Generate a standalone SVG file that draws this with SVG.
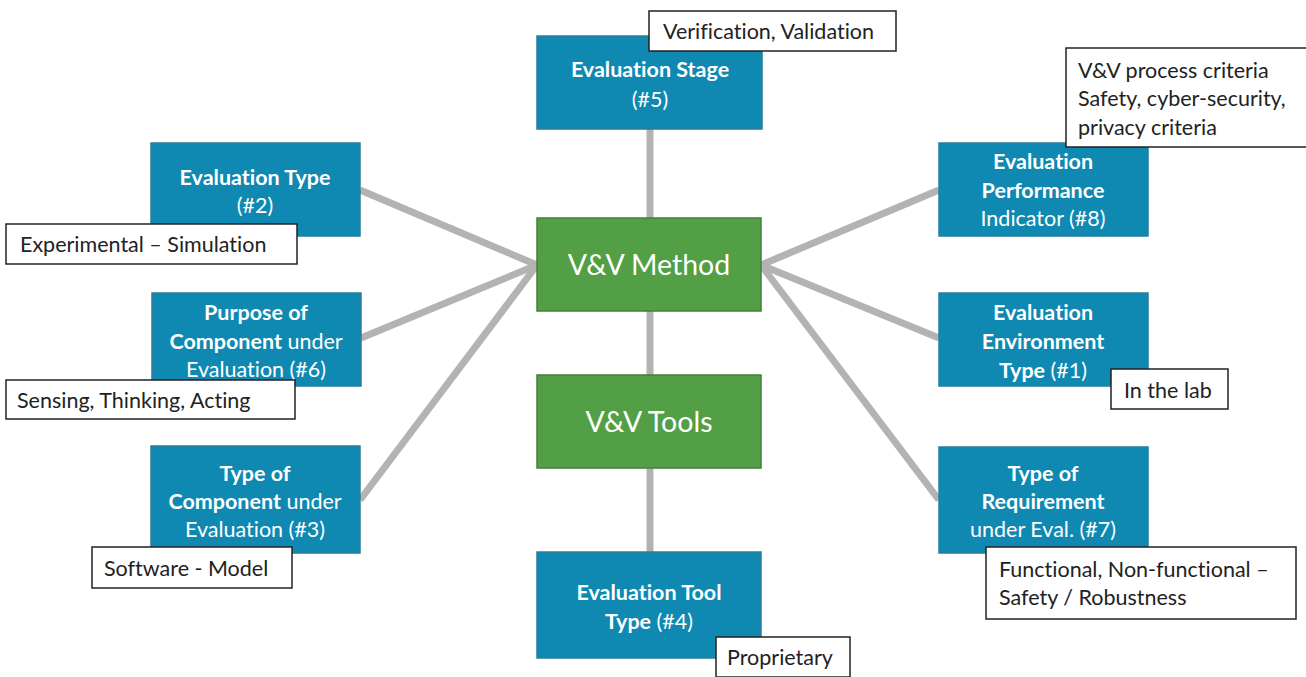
<svg xmlns="http://www.w3.org/2000/svg" width="1306" height="677" viewBox="0 0 1306 677">
<style>
.blue{fill:#0f89b1;stroke:#2a7d9c;stroke-width:1.5}
.green{fill:#529f46;stroke:#467f3b;stroke-width:1.5}
.lbl{fill:#fff;stroke:#222;stroke-width:1.5}
.conn{stroke:#b3b3b3;stroke-width:7;fill:none;stroke-linecap:butt}
text{font-family:Lato,"Open Sans",sans-serif;font-variant-ligatures:none;font-feature-settings:"liga" 0}
.bt{font-size:21.5px;fill:#fff;text-anchor:middle}
.b{font-weight:bold}
.gt{font-size:28.5px;fill:#fff;text-anchor:middle}
.lt{font-size:21.5px;fill:#222}
</style>
<g id="connectors">
<line class="conn" x1="650" y1="129" x2="650" y2="218"/>
<line class="conn" x1="650" y1="311" x2="650" y2="375"/>
<line class="conn" x1="650" y1="468" x2="650" y2="552"/>
<polyline class="conn" points="360,190 537,265 361,338"/>
<line class="conn" x1="537" y1="265" x2="360" y2="500"/>
<polyline class="conn" points="939,190 761,265 939,338"/>
<line class="conn" x1="761" y1="265" x2="939" y2="500"/>
</g>
<g id="stage">
<rect class="blue" x="537" y="36" width="225" height="93"/>
<text class="bt b" x="650" y="77">Evaluation Stage</text>
<text class="bt" x="650" y="107">(#5)</text>
<rect class="lbl" x="649" y="11" width="247" height="40"/>
<text class="lt" x="663" y="39">Verification, Validation</text>
</g>
<g id="method">
<rect class="green" x="537" y="218" width="224" height="93"/>
<text class="gt" x="649" y="275">V&amp;V Method</text>
</g>
<g id="tools">
<rect class="green" x="537" y="375" width="224" height="93"/>
<text class="gt" x="649" y="432">V&amp;V Tools</text>
</g>
<g id="tooltype">
<rect class="blue" x="537" y="552" width="224" height="106"/>
<text class="bt b" x="649" y="600">Evaluation Tool</text>
<text class="bt" x="649" y="629"><tspan class="b">Type</tspan> (#4)</text>
<rect class="lbl" x="716" y="637" width="134" height="40"/>
<text class="lt" x="727" y="665">Proprietary</text>
</g>
<g id="evaltype">
<rect class="blue" x="151" y="143" width="209" height="93"/>
<text class="bt b" x="255" y="185">Evaluation Type</text>
<text class="bt" x="255" y="213">(#2)</text>
<rect class="lbl" x="6" y="224" width="291" height="40"/>
<text class="lt" x="20" y="252">Experimental – Simulation</text>
</g>
<g id="purpose">
<rect class="blue" x="152" y="293" width="209" height="93"/>
<text class="bt b" x="256" y="320">Purpose of</text>
<text class="bt" x="256" y="349"><tspan class="b">Component</tspan> under</text>
<text class="bt" x="256" y="377">Evaluation (#6)</text>
<rect class="lbl" x="6" y="380" width="289" height="39"/>
<text class="lt" x="17" y="408">Sensing, Thinking, Acting</text>
</g>
<g id="comptype">
<rect class="blue" x="151" y="446" width="209" height="107"/>
<text class="bt b" x="255" y="481">Type of</text>
<text class="bt" x="255" y="509"><tspan class="b">Component</tspan> under</text>
<text class="bt" x="255" y="537">Evaluation (#3)</text>
<rect class="lbl" x="92" y="547" width="200" height="41"/>
<text class="lt" x="104" y="576">Software - Model</text>
</g>
<g id="perf">
<rect class="blue" x="939" y="143" width="209" height="93"/>
<text class="bt b" x="1043" y="169">Evaluation</text>
<text class="bt b" x="1043" y="198">Performance</text>
<text class="bt" x="1043" y="226">Indicator (#8)</text>
<rect class="lbl" x="1066" y="48" width="245" height="99"/>
<text class="lt" x="1078" y="78">V&amp;V process criteria</text>
<text class="lt" x="1078" y="106">Safety, cyber-security,</text>
<text class="lt" x="1078" y="135">privacy criteria</text>
</g>
<g id="env">
<rect class="blue" x="939" y="293" width="209" height="93"/>
<text class="bt b" x="1043" y="320">Evaluation</text>
<text class="bt b" x="1043" y="349">Environment</text>
<text class="bt" x="1043" y="378"><tspan class="b">Type</tspan> (#1)</text>
<rect class="lbl" x="1111" y="369" width="117" height="40"/>
<text class="lt" x="1124" y="398">In the lab</text>
</g>
<g id="req">
<rect class="blue" x="939" y="447" width="209" height="106"/>
<text class="bt b" x="1043" y="481">Type of</text>
<text class="bt b" x="1043" y="509">Requirement</text>
<text class="bt" x="1043" y="537">under Eval. (#7)</text>
<rect class="lbl" x="986" y="547" width="310" height="72"/>
<text class="lt" x="999" y="577">Functional, Non-functional –</text>
<text class="lt" x="999" y="605">Safety / Robustness</text>
</g>
</svg>
